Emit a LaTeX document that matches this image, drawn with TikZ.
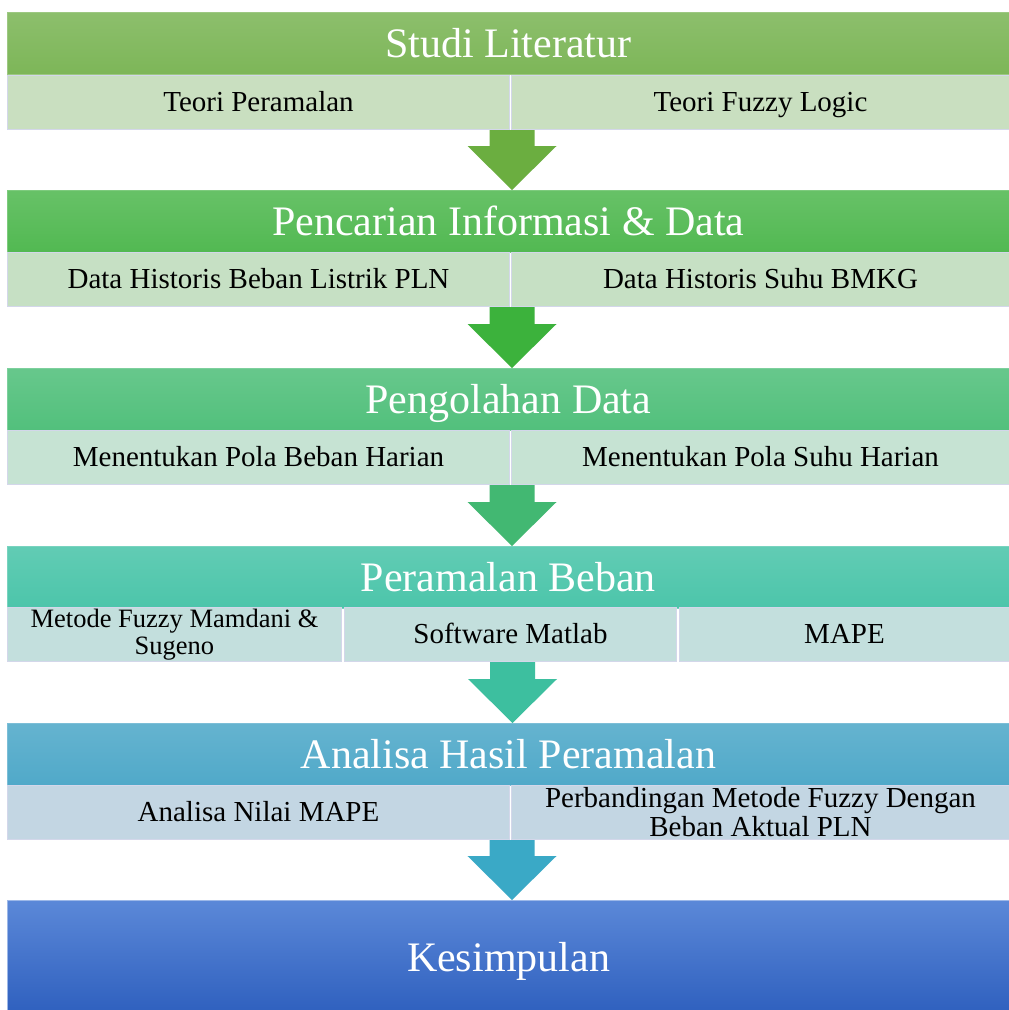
\documentclass[tikz,border=0pt]{standalone}
\usepackage{fontspec}
\setmainfont{Liberation Serif}
\usetikzlibrary{calc}
\definecolor{hA}{HTML}{7DB658}
\definecolor{hB}{HTML}{52B952}
\definecolor{hC}{HTML}{52C07C}
\definecolor{hD}{HTML}{4CC5AA}
\definecolor{hE}{HTML}{50A9C9}
\definecolor{sA}{HTML}{C9DFC0}
\definecolor{sB}{HTML}{C6E0C4}
\definecolor{sC}{HTML}{C6E3D3}
\definecolor{sD}{HTML}{C3DFDD}
\definecolor{sE}{HTML}{C3D6E3}
\definecolor{aA}{HTML}{6BAE40}
\definecolor{aB}{HTML}{3CB23C}
\definecolor{aC}{HTML}{42B872}
\definecolor{aD}{HTML}{3DBF9F}
\definecolor{aE}{HTML}{3AA9C6}
\definecolor{kTop}{HTML}{5B88D8}
\definecolor{kBot}{HTML}{3061BF}
\definecolor{edge}{HTML}{D3D7EA}
\newcommand\flowarrow[3]{%
  \fill[#3] let \p1=(#1), \p2=(#2) in
    (\x1-22.5pt,\y1) -- (\x1-22.5pt,\y2+44pt) -- (\x1-44.5pt,\y2+44pt) --
    (\x1,\y2) -- (\x1+44.5pt,\y2+44pt) -- (\x1+22.5pt,\y2+44pt) --
    (\x1+22.5pt,\y1) -- cycle;}
\begin{document}
\begin{tikzpicture}[x=1pt,y=-1pt,
  hdr/.style={anchor=north west, inner sep=0pt, minimum height=62pt,
    minimum width=1002pt, text=white, font=\fontsize{42}{42}\selectfont,
    text height=33.6pt, text depth=5.6pt,
    draw=#1!75!white, line width=0.8pt, top color=#1!88!white, bottom color=#1},
  sub/.style 2 args={anchor=north west, inner sep=0pt, minimum height=54pt,
    minimum width=#2, text=black, font=\fontsize{29}{29}\selectfont,
    text height=23.2pt, text depth=5.8pt,
    align=center, fill=#1, draw=edge, line width=1pt},
  twoline/.style={text height=, text depth=},
  kes/.style={anchor=north west, inner sep=0pt, minimum height=110pt,
    minimum width=1002pt, text=white, font=\fontsize{42}{42}\selectfont,
    text height=35.7pt, text depth=3.8pt,
    top color=kTop, bottom color=kBot, draw=kTop!60!white, line width=1pt}
]
\useasboundingbox (0,0) rectangle (1009,1010);
\fill[white] (0,0) rectangle (1009,1010);

% Row 1
\node[hdr=hA] (h1) at (7,12) {Studi Literatur};
\node[sub={sA}{502pt}] (s1a) at (7,75) {Teori Peramalan};
\node[sub={sA}{498pt}] (s1b) at (511,75) {Teori Fuzzy Logic};

% Row 2
\node[hdr=hB] (h2) at (7,190) {Pencarian Informasi \& Data};
\node[sub={sB}{502pt}] (s2a) at (7,252) {Data Historis Beban Listrik PLN};
\node[sub={sB}{498pt}] (s2b) at (511,252) {Data Historis Suhu BMKG};

% Row 3
\node[hdr=hC] (h3) at (7,368) {Pengolahan Data};
\node[sub={sC}{502pt}] (s3a) at (7,430) {Menentukan Pola Beban Harian};
\node[sub={sC}{498pt}] (s3b) at (511,430) {Menentukan Pola Suhu Harian};

% Row 4
\node[hdr=hD] (h4) at (7,546) {Peramalan Beban};
\node[sub={sD}{334pt}, twoline, font=\fontsize{26.5}{26.5}\selectfont] (s4a) at (7,607) {Metode Fuzzy Mamdani \&\\Sugeno};
\node[sub={sD}{332pt}] (s4b) at (344,607) {Software Matlab};
\node[sub={sD}{330pt}] (s4c) at (679,607) {MAPE};

% Row 5
\node[hdr=hE] (h5) at (7,723) {Analisa Hasil Peramalan};
\node[sub={sE}{502pt}] (s5a) at (7,785) {Analisa Nilai MAPE};
\node[sub={sE}{498pt}, twoline] (s5b) at (511,785) {Perbandingan Metode Fuzzy Dengan\\Beban Aktual PLN};

% Conclusion
\node[kes] (k) at (7,900) {Kesimpulan};

% Connectors (block arrows)
\coordinate (t1) at ($(s1b.south west)+(1,0)$);
\coordinate (t2) at ($(s2b.south west)+(1,0)$);
\coordinate (t3) at ($(s3b.south west)+(1,0)$);
\coordinate (t4) at ($(s4b.south)+(2,0)$);
\coordinate (t5) at ($(s5b.south west)+(1,0)$);
\flowarrow{t1}{h2.north}{aA}
\flowarrow{t2}{h3.north}{aB}
\flowarrow{t3}{h4.north}{aC}
\flowarrow{t4}{h5.north}{aD}
\flowarrow{t5}{k.north}{aE}
\end{tikzpicture}
\end{document}
